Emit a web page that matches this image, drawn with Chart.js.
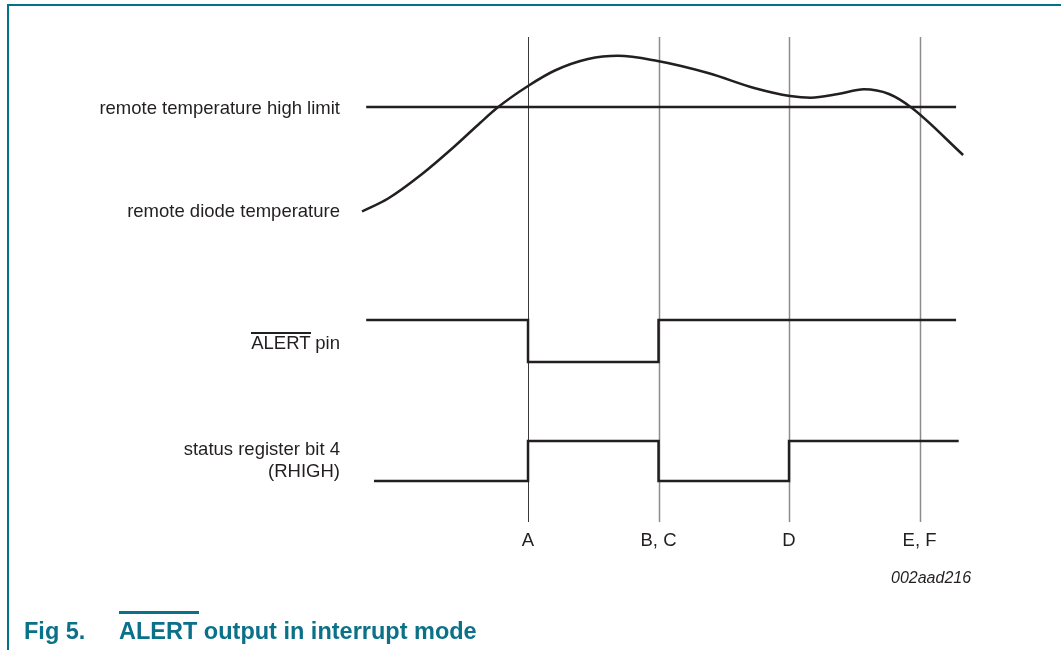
<!DOCTYPE html>
<html>
<head>
<meta charset="utf-8">
<title>ALERT output in interrupt mode</title>
<script src="https://cdn.jsdelivr.net/npm/chart.js@4.4.1/dist/chart.umd.min.js"></script>
<style>
  body { margin: 0; background: #fff; font-family: "Liberation Sans", Arial, sans-serif; color: #231f20; }
  #wrap { position: relative; width: 1061px; height: 650px; overflow: hidden; }
  #frame { position: absolute; left: 7px; top: 4px; width: 1100px; height: 700px;
           border-left: 2px solid #00728a; border-top: 2px solid #00728a; }
  #chart { position: absolute; left: 0; top: 0; }
  .lbl { position: absolute; right: 721px; font-size: 18.5px; line-height: 22px;
         text-align: right; white-space: nowrap; }
  .bar { position: absolute; }
  #figid { position: absolute; left: 891px; top: 568px; font-size: 16px; line-height: 20px; font-style: italic; }
  .cap { position: absolute; top: 618px; font-size: 23.5px; line-height: 26px; font-weight: bold; color: #0b7189; white-space: nowrap; }
</style>
</head>
<body>
<div id="wrap">
  <div id="frame"></div>
  <canvas id="chart" width="1061" height="650"></canvas>

  <div class="lbl" style="top:97px">remote temperature high limit</div>
  <div class="lbl" style="top:200px">remote diode temperature</div>
  <div class="lbl" style="top:332px">ALERT pin</div>
  <div class="bar" style="left:251px; top:332px; width:60px; height:1.5px; background:#231f20"></div>
  <div class="lbl" style="top:438px">status register bit 4<br>(RHIGH)</div>

  <div id="figid">002aad216</div>

  <div class="cap" style="left:24px">Fig 5.</div>
  <div class="cap" style="left:119px">ALERT output in interrupt mode</div>
  <div class="bar" style="left:119px; top:611px; width:80px; height:2.5px; background:#0b7189"></div>
</div>

<script>
// time axis (arbitrary units), events A..F
const eventTimes = [10, 15, 20, 25];
const eventLabels = ['A', 'B, C', 'D', 'E, F'];

// remote diode temperature (arbitrary degrees)
const tempTimes  = [3.64, 4.64, 5.94, 7.2, 8.16, 8.81, 10.0, 11.03, 12.3, 13.45, 14.87, 16.93, 18.7, 20.04, 20.84, 21.88, 22.87, 23.83, 24.71, 26.67];
const tempValues = [38.2, 43.4, 53.2, 64.4, 73.6, 79.6, 88.4, 94.6, 99.2, 100.5, 98.6, 93.5, 87.5, 84.4, 83.7, 85.2, 87.1, 85.2, 79.6, 60.8];

// remote temperature high limit
const limitTimes = [3.8, 26.4];
const limitValue = 80;

// ALERT pin (active low), level after each transition time
const alertTimes  = [3.8, 10, 15, 26.4];
const alertLevels = [1, 0, 1, 1];

// status register bit 4 (RHIGH)
const statusTimes  = [4.1, 10, 15, 20, 26.5];
const statusLevels = [0, 1, 0, 1, 1];

const zip = (xs, ys) => xs.map((x, i) => ({ x: x, y: ys[i] }));

const eventLines = {
    id: 'eventLines',
    beforeDatasetsDraw(chart) {
        const ctx = chart.ctx;
        const xs = chart.scales.x;
        ctx.save();
        eventTimes.forEach((t, i) => {
            const px = Math.round(xs.getPixelForValue(t)) + 0.5;
            ctx.beginPath();
            ctx.strokeStyle = i === 0 ? '#3a3a3a' : '#8c8c8c';
            ctx.lineWidth = i === 0 ? 1 : 1.5;
            ctx.moveTo(px, 37);
            ctx.lineTo(px, 522);
            ctx.stroke();
        });
        ctx.restore();
    },
    afterDraw(chart) {
        const ctx = chart.ctx;
        const xs = chart.scales.x;
        ctx.save();
        ctx.fillStyle = '#231f20';
        ctx.font = '18.5px "Liberation Sans", Arial, sans-serif';
        ctx.textAlign = 'center';
        ctx.textBaseline = 'alphabetic';
        eventTimes.forEach((t, i) => {
            ctx.fillText(eventLabels[i], xs.getPixelForValue(t), 546);
        });
        ctx.restore();
    }
};

const lineStyle = { borderColor: '#231f20', borderWidth: 2.5, pointRadius: 0, fill: false };

new Chart(document.getElementById('chart'), {
    type: 'line',
    data: {
        datasets: [
            Object.assign({ label: 'remote diode temperature', data: zip(tempTimes, tempValues), yAxisID: 'yTemp', cubicInterpolationMode: 'monotone' }, lineStyle),
            Object.assign({ label: 'remote temperature high limit', data: zip(limitTimes, [limitValue, limitValue]), yAxisID: 'yTemp' }, lineStyle),
            Object.assign({ label: 'ALERT pin', data: zip(alertTimes, alertLevels), yAxisID: 'yAlert', stepped: 'before' }, lineStyle),
            Object.assign({ label: 'status register bit 4', data: zip(statusTimes, statusLevels), yAxisID: 'yStatus', stepped: 'before' }, lineStyle)
        ]
    },
    options: {
        responsive: false,
        animation: false,
        devicePixelRatio: 1,
        layout: { padding: 0 },
        plugins: { legend: { display: false }, tooltip: { enabled: false } },
        scales: {
            x: { type: 'linear', min: -10.23, max: 30.42, display: false, bounds: 'data' },
            yTemp: { type: 'linear', min: -137.2, max: 122.8, display: false },
            yAlert: { type: 'linear', min: -6.857, max: 8.619, display: false },
            yStatus: { type: 'linear', min: -4.225, max: 12.025, display: false }
        }
    },
    plugins: [eventLines]
});
</script>
</body>
</html>
